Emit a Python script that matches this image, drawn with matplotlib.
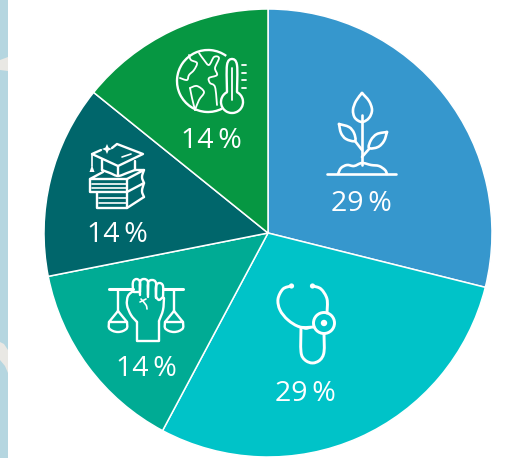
import matplotlib
matplotlib.use("Agg")
import matplotlib.pyplot as plt
from matplotlib.patches import Rectangle, Circle, PathPatch, Polygon, Arc
from matplotlib.path import Path

plt.rcParams['font.family'] = ['Open Sans', 'DejaVu Sans']

# data
shares = [28.9, 28.9, 14.1, 13.9, 14.2]
share_labels = ['29', '29', '14', '14', '14']
slice_colors = ['#3697cd', '#00c3c8', '#00ab94', '#00666b', '#069742']
label_x = [361, 305, 146, 117, 211]
label_y = [204, 394, 369, 235, 141]

W = 511
H = 458
fig = plt.figure(figsize=(W / 100, H / 100), dpi=100)

# pie, y going up
ax = fig.add_axes([0, 0, 1, 1])
ax.pie(shares, colors=slice_colors, startangle=90, counterclock=False,
       center=(268, H - 233), radius=224,
       wedgeprops={'edgecolor': 'white', 'linewidth': 1.1})
ax.set_xlim(0, W)
ax.set_ylim(0, H)
ax.set_aspect('auto')
ax.axis('off')

# overlay in image pixels for the icons, y going down
ov = fig.add_axes([0, 0, 1, 1])
ov.set_xlim(0, W)
ov.set_ylim(H, 0)
ov.axis('off')
ov.patch.set_alpha(0)

# strip of the page behind, on the left edge
ov.add_patch(Rectangle((0, 0), 8, H, color='#b5d6e0', lw=0))
ov.add_patch(Polygon([(0, 60), (8, 57), (8, 71), (0, 70)], color='#e9e8e4', lw=0))
ov.add_patch(Polygon([(0, 342), (4, 344), (8, 350), (8, 373), (5, 366), (0, 360)], color='#e9e8e4', lw=0))

LW = 1.7


def stroke(pts, closed=False, lw=LW):
    if closed:
        pts = pts + [pts[0]]
    ov.plot([p[0] for p in pts], [p[1] for p in pts], color='white', lw=lw,
            solid_capstyle='round', solid_joinstyle='round')


def curve(pts, lw=LW):
    # catmull-rom through the points
    verts = [pts[0]]
    codes = [Path.MOVETO]
    for i in range(len(pts) - 1):
        p0 = pts[max(i - 1, 0)]
        p1 = pts[i]
        p2 = pts[i + 1]
        p3 = pts[min(i + 2, len(pts) - 1)]
        verts.append((p1[0] + (p2[0] - p0[0]) / 6, p1[1] + (p2[1] - p0[1]) / 6))
        verts.append((p2[0] - (p3[0] - p1[0]) / 6, p2[1] - (p3[1] - p1[1]) / 6))
        verts.append(p2)
        codes += [Path.CURVE4] * 3
    ov.add_patch(PathPatch(Path(verts, codes), fill=False, edgecolor='white', lw=lw,
                           capstyle='round', joinstyle='round'))


def ring(x, y, r, lw=LW):
    ov.add_patch(Circle((x, y), r, fill=False, edgecolor='white', lw=lw))


# plant
curve([(362, 93), (356, 101), (353, 110), (355, 118), (362, 122), (369, 118), (372, 110), (369, 101), (362, 93)], lw=1.9)
stroke([(362, 115), (362, 165)], lw=1.9)
curve([(339, 124), (341, 133), (346, 139), (355, 141), (354, 133), (349, 127), (339, 124)], lw=1.9)
curve([(387, 132), (377, 134), (371, 140), (369, 148), (378, 147), (384, 141), (387, 132)], lw=1.9)
stroke([(355, 141), (362, 150)], lw=1.9)
stroke([(369, 149), (362, 157)], lw=1.9)
stroke([(327, 174), (396, 174)], lw=1.9)
curve([(338, 174), (341, 168), (347, 165), (354, 166), (362, 163), (371, 165), (379, 166), (385, 170), (387, 174)], lw=1.9)

# stethoscope
curve([(291, 286), (283, 289), (278, 299), (280, 310), (288, 320), (300, 327), (314, 327)], lw=2.1)
curve([(313, 286), (321, 289), (327, 299), (327, 313)], lw=2.1)
ov.add_patch(Circle((291.5, 286), 2.6, color='white', lw=0))
ov.add_patch(Circle((312.5, 286), 2.6, color='white', lw=0))
ring(324, 323, 10.5, lw=2.1)
ov.add_patch(Circle((324, 323), 3.2, color='white', lw=0))
curve([(301, 328), (301, 352), (305, 360), (312.5, 363), (320, 360), (324, 352), (324, 334)], lw=2.1)
curve([(298, 326), (306, 329), (314, 326)], lw=1.2)

# fist and scales
stroke([(109, 289), (133, 289)], lw=2.2)
stroke([(163, 289), (183, 289)], lw=2.2)
for x0, x1, top, low in [(133, 140, 279, 292), (140, 148, 279, 295), (148, 156, 280, 297), (156, 163, 283, 298)]:
    xm = (x0 + x1) / 2
    curve([(x0, low), (x0, top + 3), (xm, top), (x1, top + 3), (x1, low)])
curve([(156, 297), (159, 300), (163, 297)])
stroke([(140, 292), (134, 292)])
curve([(133, 291), (128, 296), (127, 305), (131, 315), (137, 322)])
stroke([(137, 322), (137, 341), (159, 341), (159, 321)])
curve([(159, 321), (163, 310), (164, 298)])
curve([(141, 299), (146, 305), (147, 309)], lw=1.2)
stroke([(140, 302), (146, 299)], lw=1.2)
for cx in [118, 174]:
    stroke([(cx, 291), (cx, 311)])
    stroke([(cx, 311), (cx - 9, 322), (cx + 9, 322), (cx, 311)])
    curve([(cx - 9, 322), (cx - 9, 328), (cx - 5, 331), (cx, 332), (cx + 5, 331), (cx + 9, 328), (cx + 9, 322)])

# books with the graduation cap
stroke([(112, 148), (117, 144), (143, 154), (118, 166), (92, 154), (101, 150)])
stroke([(102, 160), (102, 170)])
curve([(102, 170), (110, 173), (118, 176), (127, 173), (135, 170)])
stroke([(135, 170), (135, 161)])
stroke([(118, 166), (118, 175)])
stroke([(122, 157), (131, 154)], lw=1.2)
stroke([(92, 154), (92, 166)], lw=1.2)
ov.add_patch(Polygon([(92, 165), (89.5, 172), (94.5, 172)], color='white', lw=0))
ov.add_patch(Polygon([(107, 144), (108.5, 147.5), (112, 149), (108.5, 150.5), (107, 154),
                      (105.5, 150.5), (102, 149), (105.5, 147.5)], color='white', lw=0))
stroke([(103, 172), (90, 179), (127, 179), (144, 170), (135, 170)])
stroke([(90, 179), (90, 192), (127, 192)])
stroke([(127, 179), (127, 192), (144, 183)])
curve([(144, 170), (142, 177), (144, 183)])
stroke([(92, 184), (127, 184)], lw=1.2)
stroke([(92, 188), (127, 188)], lw=1.2)
stroke([(97, 193), (97, 208), (127, 208), (144, 197)])
curve([(144, 183), (142, 191), (144, 197)])
stroke([(127, 192), (127, 208)])
stroke([(99, 198), (127, 198)], lw=1.2)
stroke([(99, 203), (127, 203)], lw=1.2)

# globe and thermometer
ov.add_patch(Arc((208, 81), 62, 62, theta1=63, theta2=306, edgecolor='white', lw=LW))
curve([(189, 55), (191, 60), (197, 63), (194, 70), (189, 75), (187, 80), (180, 78)], lw=1.3)
curve([(199, 53), (204, 60), (209, 65), (214, 57), (219, 58), (215, 68), (217, 75), (209, 78), (210, 83), (215, 87), (217, 105)], lw=1.3)
curve([(190, 88), (197, 86), (204, 92), (199, 100), (195, 110)], lw=1.3)
curve([(190, 88), (192, 98), (195, 110)], lw=1.3)
curve([(227, 92), (227, 65), (232, 59), (237, 65), (237, 92)])
ov.add_patch(Arc((232, 102), 22, 22, theta1=-63, theta2=243, edgecolor='white', lw=LW))
stroke([(232, 68), (232, 100)], lw=1.3)
for ty in [65, 73, 80, 88]:
    stroke([(242, ty), (246, ty)], lw=1.3)

# percentage labels
for txt, x, y in zip(share_labels, label_x, label_y):
    ov.text(x, y, f"{txt}\u2009%", color='white', fontsize=20.5, ha='center', va='center')

fig.savefig('out.png', dpi=100)
